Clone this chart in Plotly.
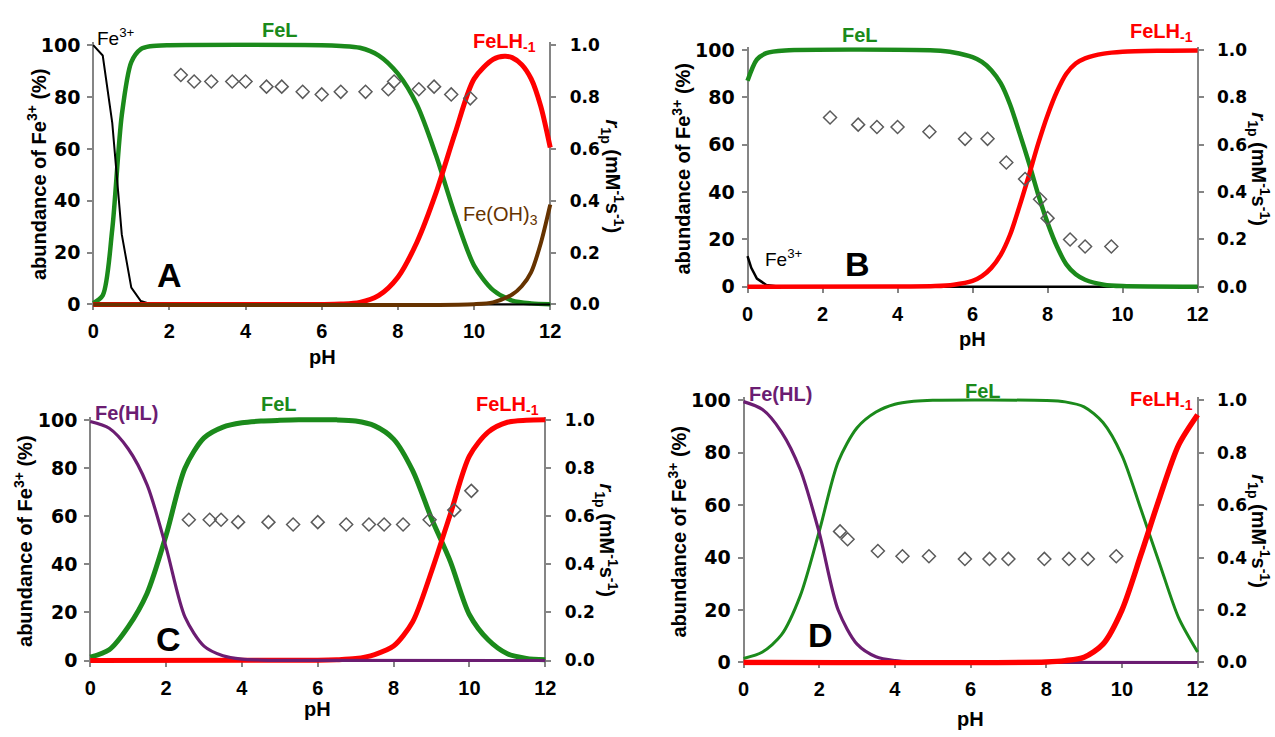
import plotly.graph_objects as go

W, H = 1275, 737

# ---------------- data ----------------
pH_ticks = [0, 2, 4, 6, 8, 10, 12]
pct_ticks = [0, 20, 40, 60, 80, 100]
r1p_ticks = [0.0, 0.2, 0.4, 0.6, 0.8, 1.0]
r1p_ticktext = ['0.0', '0.2', '0.4', '0.6', '0.8', '1.0']

# Panel A
A_fe3_ph = [0, 0.25, 0.5, 0.75, 1.0, 1.25, 1.5, 2.0, 12]
A_fe3 = [100, 96, 70, 27, 6.5, 1.3, 0.2, 0, 0]
A_fel_ph = [0, 0.25, 0.5, 0.75, 1.0, 1.25, 1.5, 2.0, 6.0, 6.5, 7.0, 7.5, 8.0, 8.5, 9.0, 9.5, 10.0, 10.5, 11.0, 11.5, 12.0]
A_fel = [0.5, 3.5, 29, 73, 93.5, 98.5, 99.6, 100, 100, 99.7, 99, 96, 89, 77, 57.5, 34.5, 15, 5.5, 1.5, 0.4, 0.1]
A_felh_ph = [0, 6.0, 6.5, 7.0, 7.5, 8.0, 8.5, 9.0, 9.5, 10.0, 10.5, 10.8, 11.0, 11.25, 11.5, 11.75, 12.0]
A_felh = [0, 0, 0.15, 0.8, 3.5, 10.5, 24, 43, 66, 87, 94.5, 95.7, 95.2, 92.5, 87, 76.5, 60.5]
A_feoh_ph = [0, 10.0, 10.5, 11.0, 11.25, 11.5, 11.75, 12.0]
A_feoh = [0, 0.1, 0.8, 3.8, 7, 12.5, 23.5, 38.5]
A_r1p_ph = [2.3, 2.65, 3.1, 3.65, 4.0, 4.55, 4.95, 5.5, 6.0, 6.5, 7.15, 7.75, 7.9, 8.55, 8.95, 9.4, 9.9]
A_r1p = [0.885, 0.86, 0.86, 0.86, 0.86, 0.84, 0.84, 0.82, 0.81, 0.82, 0.82, 0.83, 0.86, 0.83, 0.84, 0.81, 0.795]

# Panel B
B_fe3_ph = [0, 0.1, 0.25, 0.5, 0.75, 1.0, 12]
B_fe3 = [13, 8, 3.5, 0.8, 0.2, 0, 0]
B_fel_ph = [0, 0.25, 0.5, 1, 5, 5.5, 6, 6.25, 6.5, 6.75, 7, 7.25, 7.5, 7.75, 8, 8.25, 8.5, 8.75, 9, 9.5, 10, 12]
B_fel = [87, 96, 98.7, 99.8, 99.8, 99, 97, 95, 91.5, 86, 77, 65, 52.5, 39, 27, 17, 9.5, 5.3, 3, 0.9, 0.3, 0]
B_felh_ph = [0, 4, 5, 5.5, 6, 6.25, 6.5, 6.75, 7, 7.25, 7.5, 7.75, 8, 8.25, 8.5, 8.75, 9, 9.5, 10, 11, 12]
B_felh = [0, 0.1, 0.3, 0.9, 2.5, 4.5, 8, 13.5, 22, 34, 47, 60.5, 72.5, 82.5, 90, 94.3, 96.5, 98.5, 99.3, 99.7, 99.8]
B_r1p_ph = [2.2, 2.95, 3.45, 4.0, 4.85, 5.8, 6.4, 6.9, 7.4, 7.8, 8.0, 8.6, 9.0, 9.7]
B_r1p = [0.715, 0.685, 0.675, 0.675, 0.655, 0.625, 0.625, 0.525, 0.455, 0.37, 0.29, 0.20, 0.17, 0.17]

# Panel C
C_fehl_ph = [0, 0.5, 1, 1.5, 2, 2.5, 3, 3.5, 4, 4.5, 5, 12]
C_fehl = [99.3, 96.5, 88, 73, 47, 18, 6, 2, 0.6, 0.2, 0.05, 0]
C_fel_ph = [0, 0.5, 1, 1.5, 2, 2.5, 3, 3.5, 4, 4.5, 5, 5.5, 6.5, 7, 7.5, 8, 8.5, 9, 9.5, 10, 10.5, 11, 11.5, 12]
C_fel = [1.4, 4.5, 14, 28, 52, 80, 92.5, 97, 98.8, 99.5, 99.8, 100, 100, 99.5, 97.5, 92, 79, 59, 41, 19, 8.5, 2.8, 0.9, 0.3]
C_felh_ph = [0, 6, 6.5, 7, 7.5, 8, 8.5, 9, 9.5, 10, 10.5, 11, 11.5, 12]
C_felh = [0, 0.1, 0.3, 0.8, 2.5, 6, 16, 37, 61, 85, 95, 99, 99.8, 100]
C_r1p_ph = [2.6, 3.15, 3.45, 3.9, 4.7, 5.35, 6.0, 6.75, 7.35, 7.75, 8.25, 8.95, 9.6, 10.05]
C_r1p = [0.585, 0.585, 0.585, 0.575, 0.575, 0.565, 0.575, 0.565, 0.565, 0.565, 0.565, 0.585, 0.625, 0.705]

# Panel D
D_fehl_ph = [0, 0.5, 1, 1.5, 2, 2.5, 3, 3.5, 4, 4.5, 5, 12]
D_fehl = [99.5, 96.5, 88, 73.5, 49.5, 20, 7, 2.2, 0.7, 0.2, 0.05, 0]
D_fel_ph = [0, 0.5, 1, 1.5, 2, 2.5, 3, 3.5, 4, 4.5, 5, 8, 8.5, 9, 9.5, 10, 10.5, 11, 11.5, 12]
D_fel = [1.5, 4, 10.5, 25.5, 50, 76.5, 89.5, 95.5, 98.5, 99.6, 100, 99.9, 99.4, 97.5, 91.5, 79, 58.5, 37.5, 17, 4]
D_felh_ph = [0, 8, 8.5, 9, 9.5, 10, 10.5, 11, 11.5, 12]
D_felh = [0, 0.2, 0.7, 2, 7, 20, 41, 63, 83, 94.5]
D_r1p_ph = [2.55, 2.75, 3.55, 4.2, 4.9, 5.85, 6.5, 7.0, 7.95, 8.6, 9.1, 9.85]
D_r1p = [0.50, 0.47, 0.425, 0.405, 0.405, 0.395, 0.395, 0.395, 0.395, 0.395, 0.395, 0.405]

# ---------------- styles ----------------
GREEN = '#1b8a1b'
RED = '#ff0000'
BLACK = '#000000'
BROWN = '#663300'
PURPLE = '#6b1d72'
AX = '#858585'
DIAM = '#5a5a5a'
ARIAL = 'Liberation Sans, Arial, sans-serif'
WIDE = 'DejaVu Sans, sans-serif'
PAD = 3

# pixel boxes: (x at pH0, x at pH12, y at 100, y at 0)
BOXES = {1: (91, 552, 38, 303), 2: (751, 1205, 43, 285),
         3: (88, 547, 421, 667), 4: (747, 1205, 401, 669)}

fig = go.Figure()
layout = {}


def ids(i):
    x = 'x' if i == 1 else f'x{i}'
    yl = 'y' if i == 1 else f'y{2 * i - 1}'
    yr = f'y{2 * i}'
    return x, yl, yr


def setup_panel(i):
    x0, x1, yt, yb = BOXES[i]
    sx = (x1 - x0) / 12.0
    sy = (yb - yt) / 100.0
    xd = [(x0 - PAD) / W, (x1 + PAD) / W]
    yd = [1 - (yb + PAD) / H, 1 - (yt - PAD) / H]
    xr = [-PAD / sx, 12 + PAD / sx]
    yr = [-PAD / sy, 100 + PAD / sy]
    x, yl, yr_id = ids(i)
    xk = 'xaxis' if i == 1 else f'xaxis{i}'
    ylk = 'yaxis' if i == 1 else f'yaxis{2 * i - 1}'
    yrk = f'yaxis{2 * i}'
    common = dict(showline=True, linecolor=AX, linewidth=2, ticks='outside',
                  ticklen=5, tickwidth=2, tickcolor=AX, showgrid=False,
                  zeroline=False, layer='below traces', fixedrange=True)
    layout[xk] = dict(common, domain=xd, range=xr, anchor='free',
                      position=1 - yb / H, tickvals=pH_ticks,
                      tickfont=dict(family=ARIAL, size=20, color='black', weight='bold'),
                      ticklabelstandoff=4)
    layout[ylk] = dict(common, domain=yd, range=yr, anchor='free',
                       position=x0 / W, side='left', tickvals=pct_ticks,
                       tickfont=dict(family=WIDE, size=19, color='black', weight='bold'),
                       ticklabelstandoff=3)
    layout[yrk] = dict(common, range=[yr[0] / 100, yr[1] / 100], anchor='free',
                       overlaying=yl, position=x1 / W, side='right',
                       tickvals=r1p_ticks, ticktext=r1p_ticktext,
                       tickfont=dict(family=WIDE, size=17, color='black', weight='bold'),
                       ticklabelstandoff=10)


def curve(i, xs, ys, color, width, shape='spline'):
    x, yl, _ = ids(i)
    fig.add_trace(go.Scatter(x=xs, y=ys, mode='lines', xaxis=x, yaxis=yl,
                             line=dict(color=color, width=width, shape=shape,
                                       smoothing=0.8 if shape == 'spline' else None),
                             showlegend=False, hoverinfo='skip'))


def points(i, xs, ys):
    x, _, yr = ids(i)
    fig.add_trace(go.Scatter(x=xs, y=ys, mode='markers', xaxis=x, yaxis=yr,
                             marker=dict(symbol='diamond-open', size=10, color=DIAM,
                                         line=dict(color=DIAM, width=1.5)),
                             showlegend=False, cliponaxis=False))


for i in range(1, 5):
    setup_panel(i)

# Panel A
curve(1, A_fel_ph, A_fel, GREEN, 4.5)
curve(1, A_fe3_ph, A_fe3, BLACK, 2, 'linear')
curve(1, A_felh_ph, A_felh, RED, 5)
curve(1, A_feoh_ph, A_feoh, BROWN, 4)
points(1, A_r1p_ph, A_r1p)
# Panel B
curve(2, B_fe3_ph, B_fe3, BLACK, 2.5, 'linear')
curve(2, B_fel_ph, B_fel, GREEN, 4.5)
curve(2, B_felh_ph, B_felh, RED, 4.5)
points(2, B_r1p_ph, B_r1p)
# Panel C
curve(3, C_fel_ph, C_fel, GREEN, 5)
curve(3, C_felh_ph, C_felh, RED, 5)
curve(3, C_fehl_ph, C_fehl, PURPLE, 3.2)
points(3, C_r1p_ph, C_r1p)
# Panel D
curve(4, D_fel_ph, D_fel, GREEN, 3)
curve(4, D_fehl_ph, D_fehl, PURPLE, 3.2)
curve(4, D_felh_ph, D_felh, RED, 5.5)
points(4, D_r1p_ph, D_r1p)

# ---------------- text ----------------
ann = []


def label(text, px, py, color='black', size=20, bold=True, angle=0, family=ARIAL):
    ann.append(dict(text=text, x=px / W, y=1 - py / H, xref='paper', yref='paper',
                    xanchor='center', yanchor='middle', showarrow=False,
                    textangle=angle,
                    font=dict(family=family, size=size, color=color,
                              weight='bold' if bold else 'normal')))


LEFT_T = 'abundance of Fe<sup>3+</sup> (%)'
RIGHT_T = '<i>r</i><sub>1p</sub> (mM<sup>-1</sup>s<sup>-1</sup>)'

# Panel A
label('Fe<sup>3+</sup>', 114, 30, BLACK, 19, False)
label('FeL', 279, 22, GREEN)
label('FeLH<sub>-1</sub>', 506, 35, RED)
label('Fe(OH)<sub>3</sub>', 502, 212, BROWN, 20, False)
label('A', 168, 273, size=34)
label(LEFT_T, 34, 170, angle=-90)
label(RIGHT_T, 615, 172, angle=90)
label('pH', 322, 357)
# Panel B
label('FeL', 864, 28, GREEN)
label('FeLH<sub>-1</sub>', 1169, 25, RED)
label('Fe<sup>3+</sup>', 788, 256, BLACK, 19, False)
label('B', 862, 262, size=34)
label(LEFT_T, 684, 164, angle=-90)
label(RIGHT_T, 1267, 165, angle=90)
label('pH', 978, 338)
# Panel C
label('Fe(HL)', 125, 414, PURPLE)
label('FeL', 278, 405, GREEN)
label('FeLH<sub>-1</sub>', 509, 406, RED)
label('C', 167, 645, size=34)
label(LEFT_T, 20, 545, angle=-90)
label(RIGHT_T, 609, 544, angle=90)
label('pH', 317, 717)
# Panel D
label('Fe(HL)', 784, 395, PURPLE)
label('FeL', 989, 392, GREEN)
label('FeLH<sub>-1</sub>', 1169, 401, RED)
label('D', 825, 641, size=34)
label(LEFT_T, 680, 535, angle=-90)
label(RIGHT_T, 1267, 535, angle=90)
label('pH', 976, 727)

fig.update_layout(width=W, height=H, margin=dict(l=0, r=0, t=0, b=0),
                  paper_bgcolor='white', plot_bgcolor='rgba(0,0,0,0)',
                  annotations=ann, showlegend=False, **layout)

fig.write_html('out.html', config={'displayModeBar': False})
